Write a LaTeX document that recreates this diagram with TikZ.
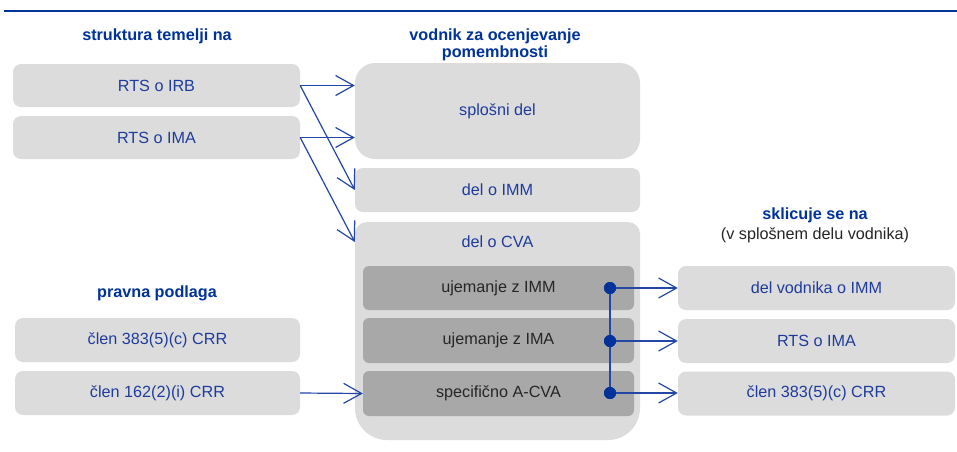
\documentclass[tikz,border=0pt]{standalone}
\usepackage{fontspec}
\setmainfont{Liberation Sans}
\usetikzlibrary{arrows.meta}
\definecolor{hblue}{HTML}{003399}
\definecolor{tblue}{HTML}{1F3C9C}
\definecolor{ablue}{HTML}{2447A6}
\definecolor{lgray}{HTML}{DCDCDC}
\definecolor{dgray}{HTML}{A8A8A8}
\tikzset{
  lbox/.style={fill=lgray, rounded corners=8pt, inner sep=0pt, text=tblue, font=\fontsize{16.2}{19}\selectfont},
  dbox/.style={fill=dgray, rounded corners=6pt, inner sep=0pt, text=black!85, font=\fontsize{16.2}{19}\selectfont},
  head/.style={text=hblue, font=\bfseries\fontsize{16.2}{17}\selectfont, align=center},
  conn/.style={draw=ablue, line width=1.2pt, -{Straight Barb[length=18pt, width=20pt, line width=1.2pt]}},
  dot/.style={circle, fill=hblue, inner sep=0pt, minimum size=12pt},
}
\begin{document}
\begin{tikzpicture}[x=1pt, y=-1pt]
\useasboundingbox (0,0) rectangle (957,451);
\fill[white] (0,0) rectangle (957,451);
\draw[hblue, line width=2pt] (4,11) -- (957,11);

% headers
\node[head] (h1) at (157,36) {struktura temelji na};
\node[head] (h2) at (495,45) {vodnik za ocenjevanje\\pomembnosti};
\node[head] (h3) at (815,215) {sklicuje se na};
\node[text=black!85, font=\fontsize{16.2}{19}\selectfont] (h3b) at (815,235) {(v splošnem delu vodnika)};
\node[head] (h4) at (157,293) {pravna podlaga};

% left boxes
\node[lbox, minimum width=287pt, minimum height=43pt] (irb) at (156.5,85.5) {RTS o IRB};
\node[lbox, minimum width=287pt, minimum height=43pt] (ima) at (156.5,137.5) {RTS o IMA};
\node[lbox, minimum width=285pt, minimum height=44pt] (c383) at (157.5,340) {člen 383(5)(c) CRR};
\node[lbox, minimum width=285pt, minimum height=44pt] (c162) at (157.5,393) {člen 162(2)(i) CRR};

% middle
\node[lbox, rounded corners=20pt, minimum width=285pt, minimum height=96pt] (spl) at (497.5,111) {splošni del};
\node[lbox, minimum width=285pt, minimum height=44pt] (imm) at (497.5,190) {del o IMM};
\fill[lgray] (355,330) {[rounded corners=12pt] |- (497,222) -| (640,330)} {[rounded corners=32pt] |- (497,440) -| (355,330)} -- cycle;
\node[inner sep=0pt, minimum width=285pt, minimum height=218pt] (cva) at (497.5,331) {};
\node[text=tblue, font=\fontsize{16.2}{19}\selectfont] (cvat) at (497.5,242) {del o CVA};
\node[dbox, minimum width=271pt, minimum height=44pt] (u1) at (498.5,288) {ujemanje z IMM};
\node[dbox, minimum width=271pt, minimum height=45pt] (u2) at (498.5,340.5) {ujemanje z IMA};
\node[dbox, minimum width=271pt, minimum height=45pt] (u3) at (498.5,393.5) {specifično A-CVA};

% right boxes
\node[lbox, minimum width=277pt, minimum height=44pt] (r1) at (816.5,288) {del vodnika o IMM};
\node[lbox, minimum width=277pt, minimum height=44pt] (r2) at (816.5,341) {RTS o IMA};
\node[lbox, minimum width=277pt, minimum height=44pt] (r3) at (816.5,393.5) {člen 383(5)(c) CRR};

% dots
\node[dot] (d1) at (610,288) {};
\node[dot] (d2) at (610,341) {};
\node[dot] (d3) at (610,393) {};
\draw[ablue, line width=1.2pt] (d1) -- (d3);

% connectors
\draw[conn] (irb.east) -- (irb.east -| spl.west);
\draw[conn] (irb.east) -- (imm.west);
\draw[conn] (ima.east) -- (ima.east -| spl.west);
\draw[conn] (ima.east) -- (cva.west |- cvat);
\draw[conn] (c162.east) -- (u3.west);
\draw[conn] (d1.center) -- (d1 -| r1.west);
\draw[conn] (d2.center) -- (d2 -| r2.west);
\draw[conn] (d3.center) -- (d3 -| r3.west);
\node[dot] at (d1) {};
\node[dot] at (d2) {};
\node[dot] at (d3) {};
\end{tikzpicture}
\end{document}
